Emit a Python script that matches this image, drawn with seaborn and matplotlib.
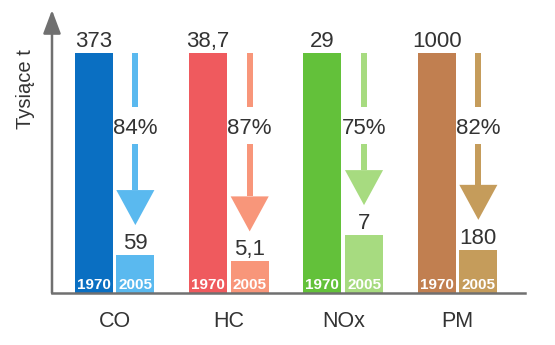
import matplotlib
matplotlib.use("Agg")
import matplotlib.pyplot as plt
import seaborn as sns
import pandas as pd
from matplotlib.patches import Polygon, Rectangle

# Emissions per pollutant (thousand tonnes) and the reduction between years
categories = ["CO", "HC", "NOx", "PM"]
years = ["1970", "2005"]
emissions_1970 = [373, 38.7, 29, 1000]
emissions_2005 = [59, 5.1, 7, 180]
reduction_pct = [84, 87, 75, 82]

colors_1970 = ["#0a6fc2", "#ef5a5e", "#63c13a", "#c17f50"]
colors_2005 = ["#5ab9ef", "#f8967a", "#a7db80", "#c59c5b"]

TEXT = "#333333"
AXIS = "#707070"

sns.set_theme(style="white")
plt.rcParams["font.family"] = ["Liberation Sans", "DejaVu Sans"]


def fmt(v):
    return f"{v:g}".replace(".", ",")


# Bars are drawn relative to each pollutant's 1970 level
rows = []
for cat, a, b in zip(categories, emissions_1970, emissions_2005):
    rows.append({"kategoria": cat, "rok": "1970", "udzial": a / a})
    rows.append({"kategoria": cat, "rok": "2005", "udzial": b / a})
df = pd.DataFrame(rows)

fig = plt.figure(figsize=(5.55, 3.45), dpi=100)
ax = fig.add_axes([52 / 555, 52 / 345, 473 / 555, 283 / 345])

sns.barplot(data=df, x="kategoria", y="udzial", hue="rok", order=categories,
            hue_order=years, width=0.728, gap=0.085, legend=False,
            saturation=1, linewidth=0, ax=ax)

bars_1970 = ax.containers[0]
bars_2005 = ax.containers[1]

for i in range(len(categories)):
    b1, b2 = bars_1970[i], bars_2005[i]
    b1.set_facecolor(colors_1970[i])
    b2.set_facecolor(colors_2005[i])

    for bar, val, yr in ((b1, emissions_1970[i], years[0]),
                         (b2, emissions_2005[i], years[1])):
        cx = bar.get_x() + bar.get_width() / 2
        ax.annotate(fmt(val), (cx, bar.get_height()), xytext=(0, 4.3),
                    textcoords="offset points", ha="center", va="baseline",
                    fontsize=16, color=TEXT)
        ax.annotate(yr, (cx, 0), xytext=(0, 3.0), textcoords="offset points",
                    ha="center", va="baseline", fontsize=11,
                    fontweight="bold", color="white")

    # Downward arrow showing the reduction, split by the percentage label
    cx = b2.get_x() + b2.get_width() / 2
    hw = b2.get_width() / 2
    shaft = 0.0525 / 2
    tip = b2.get_height() + 0.125
    head_top = tip + 0.146
    top = b1.get_height()
    col = colors_2005[i]
    ax.add_patch(Rectangle((cx - shaft, 0.775), 2 * shaft, top - 0.775,
                           facecolor=col, edgecolor="none"))
    ax.add_patch(Rectangle((cx - shaft, head_top), 2 * shaft, 0.62 - head_top,
                           facecolor=col, edgecolor="none"))
    ax.add_patch(Polygon([(cx - hw, head_top), (cx + hw, head_top), (cx, tip)],
                         closed=True, facecolor=col, edgecolor="none"))
    ax.text(cx, 0.6875, f"{reduction_pct[i]}%", ha="center", va="center",
            fontsize=16, color=TEXT)

ax.set_xlim(-0.547, 3.59)
ax.set_ylim(0, 1.18)
ax.set_yticks([])
ax.set_xlabel("")
ax.set_ylabel("")
ax.tick_params(axis="x", length=0, pad=13, labelsize=15.5, labelcolor=TEXT)

for side in ("top", "right", "left"):
    ax.spines[side].set_visible(False)
ax.spines["bottom"].set_color(AXIS)
ax.spines["bottom"].set_linewidth(1.8)

# Vertical axis with an arrow head
ax.annotate("", xy=(0, 1), xycoords="axes fraction", xytext=(0, 0),
            textcoords="axes fraction",
            arrowprops=dict(arrowstyle="-|>,head_length=1.2,head_width=0.45",
                            color=AXIS, lw=1.8, shrinkA=0, shrinkB=0),
            annotation_clip=False)

ax.text(-0.057, 0.72, "Tysiące t", transform=ax.transAxes, rotation=90,
        ha="center", va="center", fontsize=14.5, color=TEXT)

fig.savefig("out.png", dpi=100)
